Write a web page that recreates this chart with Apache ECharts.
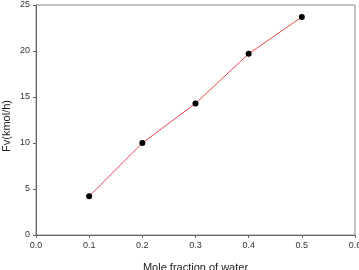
<!DOCTYPE html>
<html><head><meta charset="utf-8">
<script src="https://cdn.jsdelivr.net/npm/echarts@6/dist/echarts.min.js"></script>
<style>html,body{margin:0;padding:0;background:#fff}#c{width:359px;height:270px}</style>
</head><body><div id="c"></div>
<script>
const xValues = [0.1, 0.2, 0.3, 0.4, 0.5];
const fvValues = [4.2, 10.0, 14.3, 19.7, 23.7];
const xName = 'Mole fraction of water';
const yName = 'Fv(kmol/h)';

const chart = echarts.init(document.getElementById('c'), null, {renderer: 'canvas'});
const font = 'Liberation Sans, Arial, sans-serif';
chart.setOption({
  animation: false,
  grid: {left: 36, right: 4, top: 5, bottom: 35, show: true, borderColor: '#8a8a8a', borderWidth: 1,
    containLabel: false, outerBoundsMode: 'none'},
  xAxis: {
    type: 'value', min: 0, max: 0.6, interval: 0.1,
    name: xName, nameLocation: 'middle', nameGap: 27, nameMoveOverlap: false,
    nameTextStyle: {color: '#222', fontSize: 11, fontFamily: font},
    axisLine: {show: true, lineStyle: {color: '#666', width: 1}},
    axisTick: {show: true, inside: false, length: 3, lineStyle: {color: '#666'}},
    axisLabel: {color: '#333', fontSize: 9, fontFamily: font, margin: 6,
      formatter: v => v.toFixed(1)},
    splitLine: {show: false}
  },
  yAxis: {
    type: 'value', min: 0, max: 25, interval: 5,
    name: yName, nameLocation: 'middle', nameGap: 24, nameRotate: 90, nameMoveOverlap: false,
    nameTextStyle: {color: '#222', fontSize: 11, fontFamily: font, padding: [0, 12, 0, 0]},
    axisLine: {show: true, lineStyle: {color: '#666', width: 1}},
    axisTick: {show: true, inside: false, length: 3, lineStyle: {color: '#666'}},
    axisLabel: {color: '#333', fontSize: 9, fontFamily: font, margin: 6},
    splitLine: {show: false}
  },
  series: [{
    type: 'line',
    data: xValues.map((x, i) => [x, fvValues[i]]),
    lineStyle: {color: '#e8474e', width: 1},
    symbol: 'circle', symbolSize: 6,
    itemStyle: {color: '#000'}
  }]
});
</script></body></html>
